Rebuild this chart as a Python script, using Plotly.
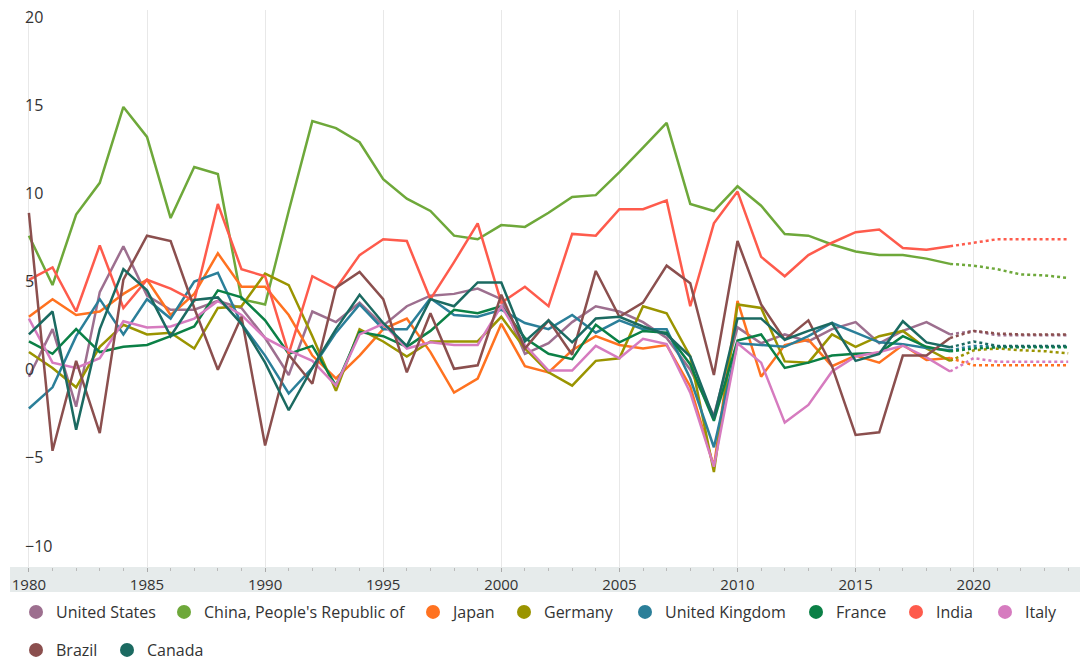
import plotly.graph_objects as go

years_hist = list(range(1980, 2020))
years_proj = list(range(2019, 2025))
year_ticks = list(range(1980, 2021, 5))
y_ticks = [-10, -5, 0, 5, 10, 15, 20]

countries = ["United States", "China, People's Republic of", "Japan", "Germany",
             "United Kingdom", "France", "India", "Italy", "Brazil", "Canada"]
colors = ["#9D6F8F", "#6EA83A", "#FF7220", "#9A9400", "#2B7F99",
          "#0B8046", "#FE5B4C", "#D67BBF", "#8B4F4E", "#1B6A61"]

us_hist = [-0.4, 2.3, -2.1, 4.4, 7.0, 4.2, 3.4, 3.4, 3.9, 3.5,
           1.8, -0.3, 3.3, 2.7, 3.8, 2.5, 3.6, 4.2, 4.3, 4.6,
           4.0, 0.9, 1.5, 2.7, 3.6, 3.3, 2.7, 1.8, 0.0, -2.6,
           2.4, 1.5, 2.0, 1.6, 2.3, 2.7, 1.5, 2.2, 2.7, 2.0]
us_proj = [2.2, 1.95, 1.95, 1.95, 1.95]

china_hist = [7.6, 4.8, 8.8, 10.6, 14.9, 13.2, 8.6, 11.5, 11.1, 4.0,
              3.7, 9.0, 14.1, 13.7, 12.9, 10.8, 9.7, 9.0, 7.6, 7.4,
              8.2, 8.1, 8.9, 9.8, 9.9, 11.2, 12.6, 14.0, 9.4, 9.0,
              10.4, 9.3, 7.7, 7.6, 7.1, 6.7, 6.5, 6.5, 6.3, 6.0]
china_proj = [5.9, 5.7, 5.4, 5.35, 5.2]

japan_hist = [3.0, 4.0, 3.1, 3.3, 4.3, 5.1, 3.1, 4.3, 6.6, 4.7,
              4.7, 3.1, 0.8, -0.5, 0.8, 2.3, 2.9, 1.0, -1.3, -0.5,
              2.6, 0.2, -0.15, 1.1, 1.9, 1.4, 1.2, 1.4, -0.95, -5.5,
              3.9, -0.4, 1.4, 1.7, 0.2, 0.8, 0.4, 1.4, 0.55, 0.66]
japan_proj = [0.25, 0.25, 0.25, 0.25, 0.25]

germany_hist = [1.0, 0.1, -1.0, 1.3, 2.55, 2.0, 2.1, 1.2, 3.5, 3.6,
                5.45, 4.8, 1.9, -1.2, 2.3, 1.6, 0.75, 1.6, 1.6, 1.6,
                3.0, 1.2, -0.15, -0.9, 0.5, 0.65, 3.6, 3.2, 0.75, -5.8,
                3.7, 3.5, 0.47, 0.4, 2.0, 1.3, 1.9, 2.2, 1.2, 0.5]
germany_proj = [1.1, 1.2, 1.1, 1.05, 0.93]

uk_hist = [-2.2, -1.0, 1.9, 4.0, 2.0, 4.0, 2.9, 5.0, 5.5, 2.6,
           0.8, -1.35, 0.1, 2.1, 3.7, 2.3, 2.3, 4.05, 3.1, 3.0,
           3.4, 2.65, 2.3, 3.1, 2.1, 2.8, 2.3, 2.3, -0.5, -4.4,
           1.5, 1.4, 1.3, 1.9, 2.65, 2.1, 1.55, 1.45, 1.23, 1.1]
uk_proj = [1.35, 1.3, 1.3, 1.3, 1.3]

france_hist = [1.6, 0.9, 2.3, 1.0, 1.3, 1.4, 1.9, 2.45, 4.5, 4.1,
               2.8, 0.9, 1.35, -0.9, 2.15, 1.9, 1.3, 2.2, 3.4, 3.2,
               3.6, 1.8, 0.9, 0.6, 2.55, 1.55, 2.2, 2.1, 0.3, -2.9,
               1.65, 2.0, 0.1, 0.4, 0.8, 0.9, 0.95, 1.9, 1.3, 1.04]
france_proj = [1.2, 1.27, 1.27, 1.27, 1.27]

india_hist = [5.1, 5.8, 3.3, 7.05, 3.5, 5.1, 4.6, 3.9, 9.4, 5.7,
              5.3, 0.9, 5.3, 4.6, 6.5, 7.4, 7.3, 4.0, 6.1, 8.3,
              3.8, 4.7, 3.6, 7.7, 7.6, 9.1, 9.1, 9.6, 3.6, 8.3,
              10.1, 6.4, 5.3, 6.5, 7.2, 7.8, 7.95, 6.9, 6.8, 7.0]
india_proj = [7.2, 7.4, 7.4, 7.4, 7.4]

italy_hist = [2.9, 0.4, 0.1, 0.65, 2.75, 2.4, 2.45, 2.9, 3.9, 3.1,
              1.8, 1.1, 0.5, -0.9, 2.0, 2.6, 1.2, 1.55, 1.4, 1.4,
              3.6, 1.4, -0.05, -0.05, 1.35, 0.65, 1.75, 1.45, -1.3, -5.5,
              1.5, 0.4, -3.0, -2.0, -0.1, 0.75, 1.0, 1.36, 0.7, -0.1]
italy_proj = [0.66, 0.45, 0.45, 0.45, 0.45]

brazil_hist = [8.9, -4.6, 0.5, -3.6, 5.1, 7.6, 7.3, 3.5, 0.0, 3.0,
               -4.3, 0.85, -0.8, 4.65, 5.55, 4.0, -0.15, 3.2, 0.05, 0.25,
               4.25, 1.2, 2.8, 0.85, 5.6, 3.0, 3.8, 5.9, 4.9, -0.3,
               7.3, 3.7, 1.7, 2.8, 0.2, -3.7, -3.55, 0.8, 0.8, 1.8]
brazil_proj = [2.2, 2.05, 2.0, 2.0, 2.0]

canada_hist = [2.0, 3.3, -3.4, 2.3, 5.7, 4.5, 1.9, 3.95, 4.1, 2.6,
               0.4, -2.3, 0.1, 2.3, 4.25, 2.65, 1.35, 4.0, 3.6, 4.95,
               4.95, 1.6, 2.8, 1.55, 2.9, 3.0, 2.45, 2.0, 0.75, -2.75,
               2.9, 2.9, 1.7, 2.2, 2.65, 0.5, 0.9, 2.75, 1.55, 1.27]
canada_proj = [1.6, 1.35, 1.35, 1.35, 1.35]

hist = [us_hist, china_hist, japan_hist, germany_hist, uk_hist,
        france_hist, india_hist, italy_hist, brazil_hist, canada_hist]
proj = [us_proj, china_proj, japan_proj, germany_proj, uk_proj,
        france_proj, india_proj, italy_proj, brazil_proj, canada_proj]

# legend layout (pixels of each entry's left edge, and its row)
legend_left_px = [16, 164, 413, 504, 625, 796, 896, 985, 16, 107]
legend_row = [0, 0, 0, 0, 0, 0, 0, 0, 1, 1]

fig = go.Figure()
for name, col, h, p in zip(countries, colors, hist, proj):
    fig.add_trace(go.Scatter(x=years_hist, y=h, mode="lines", name=name,
                             line=dict(color=col, width=2.5), showlegend=False,
                             legendgroup=name))
    fig.add_trace(go.Scatter(x=years_proj, y=[h[-1]] + p, mode="lines", name=name,
                             line=dict(color=col, width=2.5, dash="dot"),
                             showlegend=False, legendgroup=name))

legend_names = ["legend"] + ["legend%d" % (i + 1) for i in range(1, len(countries))]
for name, col, lg in zip(countries, colors, legend_names):
    fig.add_trace(go.Scatter(x=[None], y=[None], mode="markers", name=name,
                             marker=dict(color=col, size=14, symbol="circle"),
                             showlegend=True, legendgroup=name, legend=lg))

W, H = 1080, 660
plot_left, plot_top, plot_bottom = 10, 10, 567
pw = W - plot_left
ph = plot_bottom - plot_top
band_h = 25

fig.add_shape(type="rect", xref="paper", yref="paper", x0=0, x1=1,
              y0=-band_h / ph, y1=0,
              fillcolor="#E6EBEB", line=dict(width=0), layer="below")

legend_common = dict(orientation="h", xanchor="left", yanchor="top",
                     font=dict(size=16, color="#333333"), itemsizing="trace",
                     tracegroupgap=0, itemclick=False, itemdoubleclick=False,
                     bgcolor="rgba(0,0,0,0)")
row_y = [-28 / ph, -66 / ph]
legends = {}
for lg, lx, r in zip(legend_names, legend_left_px, legend_row):
    legends[lg] = dict(x=(lx - plot_left) / pw, y=row_y[r], **legend_common)

fig.update_layout(
    width=W, height=H,
    margin=dict(l=plot_left, r=0, t=plot_top, b=H - plot_bottom, autoexpand=False),
    paper_bgcolor="white", plot_bgcolor="white",
    font=dict(family="Open Sans, sans-serif", color="#333333"),
    showlegend=True,
    hovermode=False,
    xaxis=dict(range=[1979.2, 2024.5], tickmode="array", tickvals=year_ticks,
               automargin=False,
               showgrid=True, gridcolor="#E8E8E8", gridwidth=1,
               zeroline=False, showline=False,
               ticks="outside", ticklen=4, tickcolor="#AAAAAA",
               minor=dict(dtick=1, tick0=1980, ticks="outside", ticklen=3,
                          tickcolor="#BBBBBB", showgrid=False),
               tickfont=dict(size=15, color="#333333")),
    yaxis=dict(range=[-11.19, 20.4], tickmode="array", tickvals=y_ticks,
               automargin=False,
               showgrid=False, zeroline=False, showline=False,
               ticklabelposition="inside", ticklabeloverflow="allow",
               ticklabelstandoff=12,
               tickfont=dict(size=16, color="#333333")),
    **legends,
)

# remove the default page margin so the 1080x660 figure fills the window exactly
fig.write_html("out.html", config={"displayModeBar": False},
               post_script="document.body.style.margin='0';document.body.style.overflow='hidden';")
